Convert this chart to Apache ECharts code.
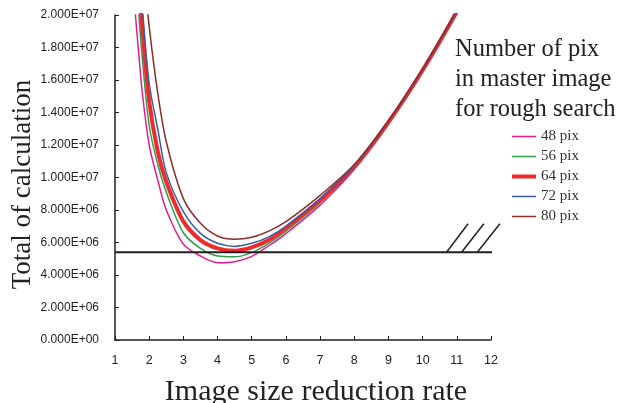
<!DOCTYPE html>
<html>
<head>
<meta charset="utf-8">
<script src="https://cdn.jsdelivr.net/npm/echarts@6/dist/echarts.min.js"></script>
<style>
  html, body { margin: 0; padding: 0; background: #fff; }
  .demo { width: 618px; height: 403px; }
</style>
</head>
<body>
<div class="demo"></div>
<script>
// reduction rate (x) and total calculation for each master image size
const xs = [1.5, 1.6, 1.7, 1.8, 2.0, 2.25, 2.5, 3.0, 3.5, 4.0, 4.5, 5.0, 5.5, 6.0, 7.0, 8.0, 9.0, 10, 11, 11.5]
const pix48 = [2.4e7, 2.0e7, 1.75e7, 1.52e7, 1.2e7, 9.85e6, 8.0e6, 5.9e6, 5.17e6, 4.76e6, 4.82e6, 5.15e6, 5.8e6, 6.55e6, 8.3e6, 1.05e7, 1.33e7, 1.65e7, 2.01e7, 2.22e7]
const pix56 = [2.8e7, 2.35e7, 2.0e7, 1.73e7, 1.32e7, 1.08e7, 9.1e6, 6.6e6, 5.64e6, 5.17e6, 5.12e6, 5.38e6, 5.95e6, 6.7e6, 8.45e6, 1.058e7, 1.335e7, 1.655e7, 2.015e7, 2.22e7]
const pix64 = [3.0e7, 2.55e7, 2.2e7, 1.92e7, 1.47e7, 1.16e7, 9.74e6, 7.3e6, 6.15e6, 5.64e6, 5.5e6, 5.7e6, 6.15e6, 6.9e6, 8.6e6, 1.065e7, 1.34e7, 1.66e7, 2.02e7, 2.22e7]
const pix72 = [3.3e7, 2.8e7, 2.4e7, 2.05e7, 1.58e7, 1.30e7, 1.03e7, 7.9e6, 6.56e6, 5.95e6, 5.76e6, 5.95e6, 6.35e6, 7.0e6, 8.7e6, 1.072e7, 1.345e7, 1.665e7, 2.025e7, 2.22e7]
const pix80 = [3.4e7, 3.0e7, 2.65e7, 2.35e7, 1.93e7, 1.52e7, 1.22e7, 8.7e6, 7.18e6, 6.4e6, 6.2e6, 6.32e6, 6.7e6, 7.28e6, 8.9e6, 1.08e7, 1.35e7, 1.67e7, 2.03e7, 2.22e7]

const seriesNames = ['48 pix', '56 pix', '64 pix', '72 pix', '80 pix']
const seriesColors = ['#e8198b', '#2f9e50', '#ee2b2b', '#3b5ca8', '#8c2d2a']
const seriesWidths = [1.5, 1.5, 4, 1.5, 1.5]

// horizontal reference level and the three break slashes
const refLevel = 5.4e6
const refX = [1, 12.09]
const slashX0 = [10.70, 11.14, 11.60]
const slashX1 = [11.33, 11.79, 12.26]
const slashY = [5.4e6, 7.15e6]

let myChart = echarts.init(document.querySelector('.demo'))

const allValues = [pix48, pix56, pix64, pix72, pix80]
const axisColor = '#231f20'
const numFont = "'Liberation Sans Narrow', 'Liberation Sans', Arial, sans-serif"
const serif = "'Liberation Serif', 'Times New Roman', serif"

let curves = allValues.map((vals, i) => ({
  name: seriesNames[i],
  type: 'line',
  smooth: 0.3,
  symbol: 'none',
  clip: true,
  color: seriesColors[i],
  lineStyle: { color: seriesColors[i], width: seriesWidths[i] },
  data: xs.map((x, j) => [x, vals[j]])
}))

let option = {
  animation: false,
  backgroundColor: '#fff',
  grid: { left: 115, right: 127, top: 15, bottom: 63, outerBoundsMode: 'none' },
  legend: {
    data: seriesNames.map((n, i) => ({
      name: n,
      icon: 'path://M0,0h24v' + seriesWidths[i] + 'h-24z',
      itemStyle: { color: seriesColors[i], borderWidth: 0 }
    })),
    orient: 'vertical',
    left: 512,
    top: 129,
    padding: 0,
    itemWidth: 24,
    itemHeight: 14,
    itemGap: 5,
    textStyle: { fontFamily: serif, fontSize: 15, lineHeight: 14, color: '#333' }
  },
  graphic: [
    {
      type: 'text',
      left: 455,
      top: 35,
      style: {
        text: 'Number of pix\nin master image\nfor rough search',
        font: '24.5px ' + serif,
        lineHeight: 30,
        fill: '#222'
      }
    }
  ],
  xAxis: {
    type: 'value',
    min: 1,
    max: 12,
    interval: 1,
    name: 'Image size reduction rate',
    nameLocation: 'middle',
    nameGap: 37,
    nameMoveOverlap: false,
    nameTextStyle: { fontFamily: serif, fontSize: 30, color: '#222', padding: [0, 0, 0, 26] },
    axisLine: { lineStyle: { color: axisColor, width: 1.5 } },
    axisTick: { inside: true, length: 4, lineStyle: { color: axisColor } },
    axisLabel: { margin: 14, fontFamily: numFont, fontSize: 12.5, color: '#222' },
    splitLine: { show: false }
  },
  yAxis: {
    type: 'value',
    min: 0,
    max: 2e7,
    interval: 2e6,
    name: 'Total of calculation',
    nameLocation: 'middle',
    nameGap: 79,
    nameMoveOverlap: false,
    nameTextStyle: { fontFamily: serif, fontSize: 27, color: '#222', padding: [0, 14, 0, 0] },
    axisLine: { show: true, lineStyle: { color: axisColor, width: 1.5 } },
    axisTick: { show: true, inside: true, length: 4, lineStyle: { color: axisColor } },
    axisLabel: {
      margin: 16,
      fontFamily: numFont,
      fontSize: 12,
      color: '#222',
      formatter: v => {
        let e = v === 0 ? 0 : Math.floor(Math.log10(v) + 1e-9)
        let m = (v / Math.pow(10, e)).toFixed(3)
        return m + 'E+' + String(e).padStart(2, '0')
      }
    },
    splitLine: { show: false }
  },
  series: [
    ...curves,
    {
      name: 'ref',
      type: 'line',
      symbol: 'none',
      clip: false,
      silent: true,
      lineStyle: { color: axisColor, width: 2 },
      data: refX.map(x => [x, refLevel])
    },
    {
      name: 'slash',
      type: 'lines',
      coordinateSystem: 'cartesian2d',
      clip: false,
      silent: true,
      lineStyle: { color: axisColor, width: 1.5, opacity: 1 },
      data: slashX0.map((x, i) => ({ coords: [[x, slashY[0]], [slashX1[i], slashY[1]]] }))
    }
  ]
}

myChart.setOption(option)
</script>
</body>
</html>
